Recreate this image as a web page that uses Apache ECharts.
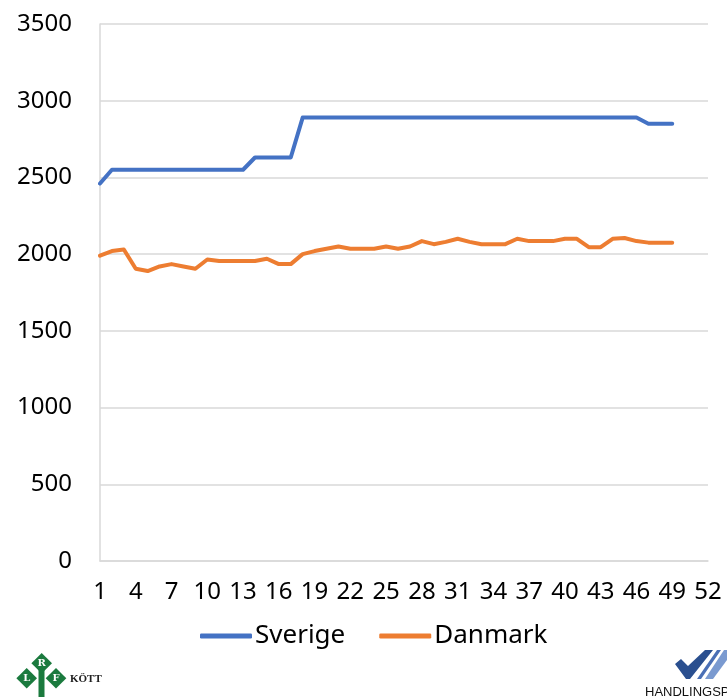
<!DOCTYPE html>
<html>
<head>
<meta charset="utf-8">
<script src="https://cdn.jsdelivr.net/npm/echarts@6/dist/echarts.min.js"></script>
<style>
  html, body { margin: 0; padding: 0; background: #fff; }
  #chart { width: 727px; height: 697px; }
</style>
</head>
<body>
<div id="chart"></div>
<script>
// veckor 1..52
const weeks = [];
for (let w = 1; w <= 52; w++) weeks.push(String(w));

const sverige = [
  2460, 2550, 2550, 2550, 2550, 2550, 2550, 2550, 2550, 2550,
  2550, 2550, 2550, 2630, 2630, 2630, 2630, 2890, 2890, 2890,
  2890, 2890, 2890, 2890, 2890, 2890, 2890, 2890, 2890, 2890,
  2890, 2890, 2890, 2890, 2890, 2890, 2890, 2890, 2890, 2890,
  2890, 2890, 2890, 2890, 2890, 2890, 2850, 2850, 2850
];
const danmark = [
  1990, 2020, 2030, 1905, 1890, 1920, 1935, 1920, 1905, 1965,
  1955, 1955, 1955, 1955, 1970, 1935, 1935, 2000, 2020, 2035,
  2050, 2035, 2035, 2035, 2050, 2035, 2050, 2085, 2065, 2080,
  2100, 2080, 2065, 2065, 2065, 2100, 2085, 2085, 2085, 2100,
  2100, 2045, 2045, 2100, 2105, 2085, 2075, 2075, 2075
];
const seriesNames = ['Sverige', 'Danmark'];
const colors = ['#4472C4', '#ED7D31'];

const chart = echarts.init(document.getElementById('chart'));
const font = 'Noto Sans';

const option = {
  animation: false,
  color: colors,
  grid: { left: 100, right: 19, top: 24, bottom: 136 },
  legend: {
    data: seriesNames,
    top: 618,
    left: 195,
    icon: 'roundRect',
    itemWidth: 52,
    itemHeight: 5,
    itemGap: 34,
    textStyle: { fontFamily: font, fontSize: 26, color: '#000', padding: [0, 0, 0, -2] }
  },
  xAxis: {
    type: 'category',
    data: weeks,
    boundaryGap: false,
    axisLine: { lineStyle: { color: '#d9d9d9', width: 1.5 } },
    axisTick: { show: false },
    axisLabel: { interval: 2, fontFamily: font, fontSize: 24, color: '#000', margin: 19 }
  },
  yAxis: {
    type: 'value',
    min: 0,
    max: 3500,
    interval: 500,
    axisLine: { show: true, lineStyle: { color: '#d9d9d9', width: 1.5 } },
    axisTick: { show: false },
    splitLine: { lineStyle: { color: '#d9d9d9', width: 1.5 } },
    axisLabel: { fontFamily: font, fontSize: 24, color: '#000', margin: 28, formatter: (v) => String(v) }
  },
  series: [
    {
      name: seriesNames[0],
      type: 'line',
      data: sverige,
      showSymbol: false,
      lineStyle: { width: 4, cap: 'round', join: 'round' }
    },
    {
      name: seriesNames[1],
      type: 'line',
      data: danmark,
      showSymbol: false,
      lineStyle: { width: 4, cap: 'round', join: 'round' }
    }
  ],
  graphic: [
    // LRF logga
    { type: 'rect', shape: { x: 38.5, y: 668, width: 6, height: 29 }, style: { fill: '#1b7a3e' } },
    { type: 'polygon', shape: { points: [[41.7, 653], [52, 663.3], [41.7, 673.6], [31.4, 663.3]] }, style: { fill: '#1b7a3e' } },
    { type: 'polygon', shape: { points: [[26.7, 668], [37, 678.3], [26.7, 688.6], [16.4, 678.3]] }, style: { fill: '#1b7a3e' } },
    { type: 'polygon', shape: { points: [[56, 668], [66.3, 678.3], [56, 688.6], [45.7, 678.3]] }, style: { fill: '#1b7a3e' } },
    { type: 'text', style: { text: 'R', x: 41.7, y: 663.3, align: 'center', verticalAlign: 'middle', fill: '#fff', font: 'bold 10px "DejaVu Serif"' } },
    { type: 'text', style: { text: 'L', x: 26.7, y: 678.3, align: 'center', verticalAlign: 'middle', fill: '#fff', font: 'bold 10px "DejaVu Serif"' } },
    { type: 'text', style: { text: 'F', x: 56, y: 678.3, align: 'center', verticalAlign: 'middle', fill: '#fff', font: 'bold 10px "DejaVu Serif"' } },
    { type: 'text', style: { text: 'KÖTT', x: 70, y: 679, verticalAlign: 'middle', fill: '#222', font: 'bold 11px "Liberation Serif"' } },
    // Handlingsplan logga
    { type: 'polygon', shape: { points: [[675, 664], [681, 659], [688, 666], [705, 650], [713, 650], [690, 679], [686, 679]] }, style: { fill: '#2a4f8f' } },
    { type: 'polygon', shape: { points: [[697, 679], [717, 650], [721, 650], [701, 679]] }, style: { fill: '#4a6fb5' } },
    { type: 'polygon', shape: { points: [[705, 679], [724, 650], [727, 650], [727, 660], [713, 679]] }, style: { fill: '#7a9ad0' } },
    { type: 'text', style: { text: 'HANDLINGSP', x: 645, y: 692, verticalAlign: 'middle', fill: '#111', font: '13px "Liberation Sans Narrow", "Liberation Sans"' } }
  ]
};
chart.setOption(option);
</script>
</body>
</html>
